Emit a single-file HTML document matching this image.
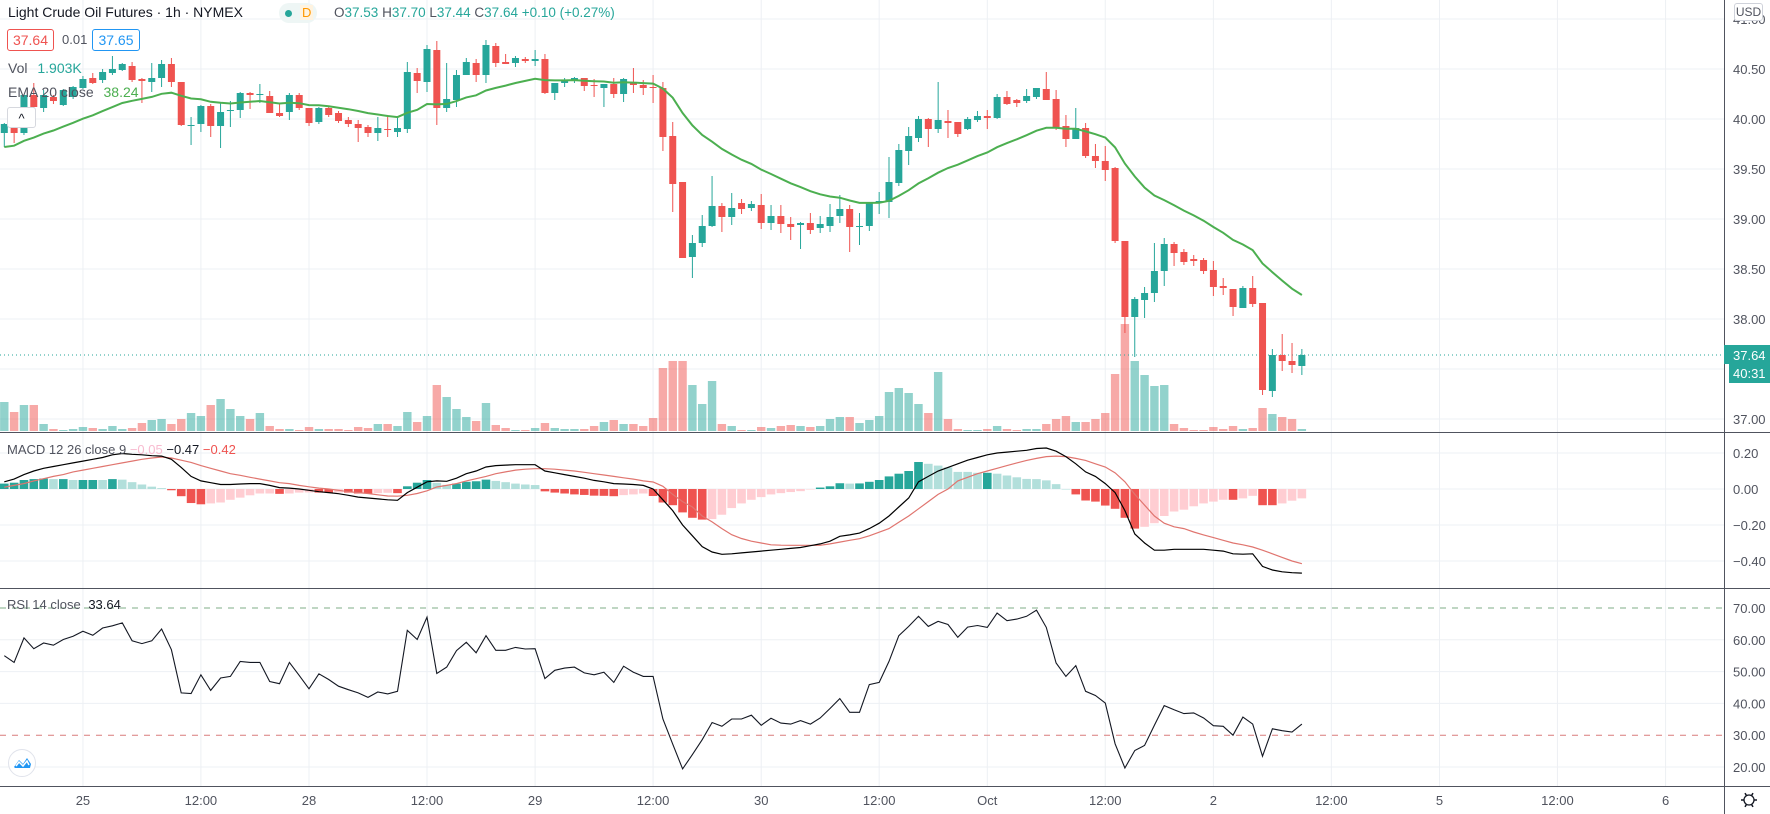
<!DOCTYPE html>
<html><head><meta charset="utf-8">
<style>
html,body{margin:0;padding:0;background:#fff;}
#wrap{position:relative;width:1770px;height:814px;overflow:hidden;font-family:"Liberation Sans",sans-serif;}
svg{position:absolute;left:0;top:0;}
.t{position:absolute;white-space:nowrap;font-size:13px;color:#50535e;}
.box{position:absolute;height:20px;line-height:20px;border-radius:3px;text-align:center;font-size:14px;}
</style></head>
<body>
<div id="wrap">
<svg id="chart" width="1770" height="814" xmlns="http://www.w3.org/2000/svg"></svg>

<div class="t" style="left:8px;top:4px;font-size:14px;color:#131722">Light Crude Oil Futures · 1h · NYMEX</div>
<div style="position:absolute;left:279px;top:3px;width:38px;height:20px;border-radius:10px;background:#eef6f5"></div>
<div style="position:absolute;left:285px;top:10px;width:7px;height:7px;border-radius:50%;background:#26a69a"></div>
<div class="t" style="left:300px;top:5px;font-size:13px;color:#ff9800;background:#fff3e0;padding:0 2px">D</div>
<div class="t" style="left:334px;top:5px;font-size:13.5px;color:#26a69a"><span style="color:#50535e">O</span>37.53 <span style="color:#50535e">H</span>37.70 <span style="color:#50535e">L</span>37.44 <span style="color:#50535e">C</span>37.64 +0.10 (+0.27%)</div>

<div class="box" style="left:7px;top:29px;width:45px;border:1px solid #ef5350;color:#ef5350">37.64</div>
<div class="t" style="left:62px;top:32px;font-size:13px">0.01</div>
<div class="box" style="left:92px;top:29px;width:46px;border:1px solid #2196f3;color:#2196f3">37.65</div>
<div class="t" style="left:8px;top:60px;font-size:14px">Vol <span style="color:#26a69a;margin-left:6px">1.903K</span></div>
<div class="t" style="left:8px;top:84px;font-size:14px">EMA 20 close <span style="color:#4caf50;margin-left:6px">38.24</span></div>
<div style="position:absolute;left:7px;top:107px;width:27px;height:19px;border:1px solid #d6d8de;border-radius:3px;background:#fff;text-align:center;font-size:13px;line-height:22px;color:#131722">^</div>

<div class="t" style="left:7px;top:442px;font-size:13px">MACD 12 26 close 9 <span style="color:#f8bbd0">−0.05</span> <span style="color:#131722">−0.47</span> <span style="color:#ef5350">−0.42</span></div>
<div class="t" style="left:7px;top:597px;font-size:13px">RSI 14 close <span style="color:#131722;margin-left:4px">33.64</span></div>

<div style="position:absolute;left:1734px;top:3px;width:27px;height:16px;border:1px solid #cfd2da;border-radius:3px;background:#fff;font-size:12px;line-height:16px;text-align:center;color:#50535e">USD</div>
<div style="position:absolute;left:8px;top:749px;width:26px;height:26px;border-radius:50%;background:#fff;border:1px solid #e0e3eb">
<svg width="26" height="26" style="position:absolute;left:0;top:0"><path d="M5 17 L10 10 L14 14 L18 8 L22 14 L21 18 L6 18 Z" fill="#2196f3"/><path d="M7 16 L10 12 L14 16 L18 11 L20 15" stroke="#fff" stroke-width="1.5" fill="none"/></svg>
</div>
</div>

<script>
const opens = [39.86,39.95,39.86,40.24,40.11,40.22,40.14,40.22,40.31,40.41,40.39,40.46,40.49,40.53,40.40,40.37,40.41,40.55,40.37,39.93,39.95,40.13,39.93,40.08,40.09,40.26,40.24,40.23,40.06,40.07,40.24,40.11,39.97,40.11,40.06,39.99,39.95,39.92,39.86,39.90,39.87,39.90,40.46,40.37,40.69,40.11,40.19,40.44,40.56,40.44,40.73,40.57,40.56,40.60,40.58,40.60,40.26,40.36,40.38,40.41,40.34,40.31,40.35,40.25,40.37,40.34,40.32,40.31,39.83,39.37,38.62,38.76,38.93,39.13,39.02,39.16,39.11,39.14,38.96,39.03,38.95,38.94,38.96,38.91,38.93,39.03,39.10,38.92,38.93,39.16,39.17,39.36,39.68,39.81,40.00,39.90,39.98,39.97,39.90,39.99,40.03,40.01,40.22,40.19,40.18,40.22,40.30,40.20,39.93,39.80,39.91,39.63,39.58,39.51,38.78,38.02,38.19,38.26,38.48,38.75,38.67,38.60,38.59,38.49,38.33,38.30,38.11,38.31,38.16,37.28,37.64,37.58,37.53];
const highs = [39.96,39.96,40.25,40.36,40.29,40.24,40.30,40.33,40.43,40.46,40.50,40.63,40.56,40.57,40.41,40.56,40.59,40.61,40.37,40.02,40.14,40.15,40.17,40.18,40.27,40.27,40.35,40.28,40.15,40.26,40.26,40.11,40.12,40.13,40.08,40.02,39.99,39.94,40.02,40.04,40.02,40.57,40.51,40.74,40.78,40.56,40.49,40.61,40.60,40.79,40.76,40.65,40.63,40.62,40.69,40.65,40.36,40.41,40.42,40.41,40.40,40.35,40.41,40.41,40.51,40.39,40.44,40.37,39.97,39.37,38.84,39.04,39.43,39.16,39.26,39.20,39.18,39.25,39.14,39.14,39.02,38.97,39.06,39.03,39.15,39.24,39.14,39.06,39.17,39.27,39.62,39.75,39.92,40.03,40.01,40.37,40.09,39.97,40.02,40.08,40.09,40.25,40.28,40.20,40.30,40.31,40.47,40.29,40.04,40.11,39.96,39.75,39.73,39.52,38.78,38.22,38.32,38.76,38.81,38.77,38.70,38.64,38.61,38.58,38.41,38.30,38.33,38.43,38.16,37.70,37.85,37.76,37.70];
const lows = [39.72,39.76,39.84,40.11,40.07,40.15,40.13,40.20,40.30,40.35,40.36,40.44,40.48,40.37,40.16,40.27,40.32,40.32,39.93,39.74,39.87,39.82,39.71,39.92,40.01,40.10,40.16,40.06,40.02,39.99,40.09,39.93,39.95,40.02,39.96,39.92,39.77,39.82,39.78,39.82,39.82,39.86,40.26,40.27,39.94,40.07,40.12,40.44,40.37,40.36,40.52,40.55,40.52,40.56,40.53,40.25,40.19,40.32,40.36,40.28,40.22,40.12,40.21,40.17,40.26,40.24,40.16,39.68,39.07,38.61,38.41,38.72,38.92,38.87,38.94,39.05,39.08,38.90,38.89,38.86,38.79,38.70,38.85,38.86,38.87,38.96,38.67,38.74,38.88,39.05,39.01,39.33,39.54,39.77,39.72,39.86,39.81,39.82,39.89,39.97,39.90,40.00,40.14,40.12,40.16,40.20,40.19,39.89,39.72,39.80,39.61,39.51,39.38,38.76,37.86,37.62,38.01,38.17,38.33,38.53,38.54,38.53,38.45,38.23,38.24,38.03,38.11,38.12,37.24,37.22,37.48,37.46,37.44];
const closes = [39.95,39.86,40.24,40.12,40.24,40.18,40.29,40.32,40.40,40.36,40.47,40.50,40.55,40.39,40.38,40.41,40.55,40.37,39.94,39.94,40.13,39.93,40.07,40.09,40.26,40.24,40.25,40.06,40.03,40.24,40.11,39.96,40.11,40.04,39.98,39.95,39.91,39.86,39.91,39.89,39.91,40.47,40.38,40.70,40.11,40.20,40.44,40.57,40.44,40.74,40.56,40.55,40.61,40.58,40.60,40.26,40.36,40.39,40.41,40.33,40.33,40.35,40.25,40.40,40.34,40.31,40.31,39.82,39.35,38.61,38.76,38.93,39.13,39.02,39.11,39.10,39.15,38.96,39.03,38.95,38.92,38.96,38.89,38.95,39.02,39.10,38.92,38.93,39.16,39.18,39.37,39.69,39.83,40.00,39.90,39.99,39.96,39.85,40.00,40.03,40.01,40.22,40.15,40.16,40.23,40.31,40.19,39.91,39.80,39.91,39.63,39.58,39.49,38.78,38.02,38.20,38.26,38.48,38.75,38.66,38.57,38.58,38.48,38.32,38.31,38.12,38.31,38.15,37.29,37.64,37.58,37.54,37.64];
const volumes = [29,19,26,26,7,2,1,2,4,3,2,5,2,3,8,11,12,7,12,18,15,26,32,22,15,12,18,5,2,2,1,4,2,2,2,1,4,3,7,7,5,19,9,15,46,34,22,14,10,28,6,3,1,1,3,8,3,2,2,2,5,9,11,7,7,5,13,63,70,70,46,27,50,7,5,1,1,4,3,5,6,5,4,5,12,14,14,8,11,15,39,43,38,27,18,59,12,2,1,1,2,5,2,1,2,2,7,12,15,9,9,12,18,57,107,70,56,45,46,7,3,1,1,4,2,5,2,3,23,17,14,12,2];
const macdLine = [0.04,0.055,0.08,0.10,0.115,0.125,0.135,0.145,0.155,0.165,0.175,0.19,0.197,0.193,0.19,0.185,0.183,0.165,0.12,0.07,0.045,0.035,0.025,0.025,0.028,0.03,0.03,0.02,0.008,0.005,0.0,-0.007,-0.015,-0.02,-0.026,-0.035,-0.045,-0.05,-0.055,-0.06,-0.063,-0.02,0.01,0.04,0.045,0.043,0.06,0.085,0.10,0.122,0.13,0.133,0.135,0.135,0.135,0.10,0.09,0.08,0.07,0.06,0.048,0.04,0.03,0.028,0.025,0.02,0.0,-0.06,-0.12,-0.20,-0.26,-0.32,-0.35,-0.363,-0.36,-0.355,-0.35,-0.345,-0.34,-0.335,-0.33,-0.325,-0.315,-0.305,-0.29,-0.263,-0.255,-0.245,-0.22,-0.19,-0.15,-0.10,-0.05,0.04,0.07,0.10,0.12,0.14,0.16,0.175,0.19,0.20,0.205,0.21,0.215,0.225,0.228,0.21,0.18,0.14,0.095,0.07,0.03,-0.02,-0.12,-0.25,-0.30,-0.34,-0.34,-0.335,-0.335,-0.335,-0.335,-0.34,-0.345,-0.36,-0.362,-0.36,-0.43,-0.45,-0.46,-0.465,-0.467];
const signalLine = [0.01,0.02,0.03,0.045,0.057,0.07,0.08,0.095,0.105,0.115,0.125,0.135,0.145,0.155,0.165,0.172,0.178,0.172,0.16,0.148,0.13,0.115,0.10,0.085,0.076,0.065,0.055,0.045,0.035,0.03,0.02,0.012,0.005,0.0,-0.007,-0.015,-0.02,-0.025,-0.032,-0.039,-0.04,-0.035,-0.025,-0.01,0.011,0.02,0.03,0.045,0.057,0.07,0.085,0.095,0.105,0.11,0.113,0.113,0.11,0.105,0.10,0.093,0.085,0.078,0.07,0.062,0.055,0.045,0.039,0.015,-0.03,-0.07,-0.10,-0.15,-0.183,-0.22,-0.254,-0.275,-0.29,-0.30,-0.31,-0.312,-0.313,-0.313,-0.313,-0.313,-0.305,-0.295,-0.285,-0.276,-0.26,-0.24,-0.22,-0.185,-0.15,-0.11,-0.07,-0.03,0.0,0.045,0.065,0.085,0.10,0.115,0.13,0.145,0.159,0.17,0.18,0.183,0.18,0.17,0.159,0.14,0.122,0.09,0.04,-0.03,-0.09,-0.15,-0.19,-0.21,-0.22,-0.239,-0.255,-0.27,-0.285,-0.30,-0.31,-0.322,-0.34,-0.36,-0.38,-0.40,-0.415];
const rsiValues = [55.0,52.9,60.6,57.2,59.0,58.3,60.1,61.1,62.7,61.4,63.7,64.4,65.3,59.7,58.8,59.7,63.4,56.9,43.3,43.1,49.0,44.1,48.0,48.5,53.2,52.9,52.9,46.9,46.2,52.9,48.8,44.6,49.3,47.5,45.4,44.3,43.3,41.9,43.6,43.0,43.8,63.0,60.1,67.1,49.4,51.4,56.6,59.2,55.9,61.3,56.7,56.7,57.6,57.1,57.2,47.8,50.4,51.1,51.4,49.6,49.0,49.8,46.6,51.7,49.8,48.5,48.5,35.1,27.2,19.4,23.9,28.6,34.0,32.8,35.1,35.1,36.3,33.1,35.3,33.8,33.5,34.6,33.5,35.4,38.4,41.5,37.2,37.2,45.9,46.6,53.2,61.3,64.2,67.4,64.2,65.8,64.8,60.8,64.0,64.5,63.9,68.4,66.0,66.5,67.4,69.3,63.9,52.7,48.5,51.9,43.8,42.5,40.1,27.3,19.7,25.2,26.8,33.1,39.3,38.0,36.8,37.0,35.4,33.0,32.8,30.0,35.7,33.5,23.4,32.0,31.4,31.0,33.5];
const timeIdx = [8,20,31,43,54,66,77,89,100,112,123,135,146,158,169];
const timeLabels = ['25','12:00','28','12:00','29','12:00','30','12:00','Oct','12:00','2','12:00','5','12:00','6'];
const priceTicks = [41.0,40.5,40.0,39.5,39.0,38.5,38.0,37.5,37.0];
const macdTicks = [0.2,0.0,-0.2,-0.4];
const rsiTicks = [70,60,50,40,30,20];
const emaSeed = 39.72;
const lastPrice = 37.64;

const NS='http://www.w3.org/2000/svg';
const svg=document.getElementById('chart');
const AXIS_X=1724, MAIN_B=432, MACD_B=588, RSI_B=786;
const xOf=i=>4.3+i*9.83;
const priceY=p=>119+(40-p)*100;
const macdY=v=>489-v*180;
const rsiY=v=>608+(70-v)*3.18;
const volY=v=>431-v*1.0;
function mk(tag,attrs,parent){const e=document.createElementNS(NS,tag);for(const k in attrs)e.setAttribute(k,attrs[k]);(parent||svg).appendChild(e);return e;}
const fmt=v=>(v<0?'\u2212':'')+Math.abs(v).toFixed(2);

// clip paths
const defs=mk('defs',{});
[['cMain',0,MAIN_B],['cMacd',MAIN_B,MACD_B],['cRsi',MACD_B,RSI_B]].forEach(c=>{const cp=mk('clipPath',{id:c[0]},defs);mk('rect',{x:0,y:c[1],width:AXIS_X,height:c[2]-c[1]},cp);});

// grids
const grid=mk('g',{});


timeIdx.forEach(i=>{const l=mk('line',{x1:xOf(i),x2:xOf(i),y1:0,y2:RSI_B,stroke:'#edf0f4','stroke-width':1},grid);

});
priceTicks.forEach(p=>{const l=mk('line',{x1:0,x2:AXIS_X,y1:priceY(p),y2:priceY(p),stroke:'#edf0f4'},grid);

});
macdTicks.forEach(v=>{const l=mk('line',{x1:0,x2:AXIS_X,y1:macdY(v),y2:macdY(v),stroke:'#edf0f4'},grid);

});
[60,50,40,20].forEach(v=>{const l=mk('line',{x1:0,x2:AXIS_X,y1:rsiY(v),y2:rsiY(v),stroke:'#edf0f4'},grid);

});

// volume
const gVol=mk('g',{'clip-path':'url(#cMain)'});


volumes.forEach((v,i)=>{const up=closes[i]>=opens[i];const y=volY(v);
const r=mk('rect',{x:xOf(i)-4.2,y:y,width:8.4,height:Math.max(0.5,431-y),fill:up?'rgba(38,166,154,0.5)':'rgba(239,83,80,0.5)'},gVol);

});

// last price line
const lp=mk('line',{x1:0,x2:AXIS_X,y1:priceY(lastPrice),y2:priceY(lastPrice),stroke:'#26a69a','stroke-width':1,'stroke-dasharray':'1 3'});



// candles
const gC=mk('g',{'clip-path':'url(#cMain)'});


closes.forEach((c,i)=>{const o=opens[i],up=c>=o,col=up?'#26a69a':'#ef5350',x=xOf(i);
const w=mk('line',{x1:x,x2:x,y1:priceY(highs[i]),y2:priceY(lows[i]),stroke:col,'stroke-width':1},gC);


const top=priceY(Math.max(o,c)),bot=priceY(Math.min(o,c));
const b=mk('rect',{x:x-3.5,y:top,width:7,height:Math.max(1,bot-top),fill:col},gC);

});

// EMA 20
let ema=emaSeed;const emaPts=[];const a=2/21;
closes.forEach((c,i)=>{if(i>0)ema=c*a+ema*(1-a);emaPts.push(xOf(i).toFixed(1)+','+priceY(ema).toFixed(1));});
const emaL=mk('polyline',{points:emaPts.join(' '),fill:'none',stroke:'#4caf50','stroke-width':2,'clip-path':'url(#cMain)'});



// MACD histogram
const gH=mk('g',{'clip-path':'url(#cMacd)'});


let prevH=0;
macdLine.forEach((m,i)=>{const h=m-signalLine[i];let col;
if(h>=0)col=h>=prevH?'#26a69a':'#b2dfdb';else col=h<=prevH?'#ef5350':'#ffcdd2';prevH=h;
const y0=macdY(0),y1=macdY(h);
const r=mk('rect',{x:xOf(i)-4.3,y:Math.min(y0,y1),width:8.6,height:Math.max(0.5,Math.abs(y1-y0)),fill:col},gH);

});
const sigL=mk('polyline',{points:signalLine.map((v,i)=>xOf(i).toFixed(1)+','+macdY(v).toFixed(1)).join(' '),fill:'none',stroke:'#e0756f','stroke-width':1.2,'clip-path':'url(#cMacd)'});


const macL=mk('polyline',{points:macdLine.map((v,i)=>xOf(i).toFixed(1)+','+macdY(v).toFixed(1)).join(' '),fill:'none',stroke:'#000','stroke-width':1.2,'clip-path':'url(#cMacd)'});



// RSI
const ob=mk('line',{x1:0,x2:AXIS_X,y1:rsiY(70),y2:rsiY(70),stroke:'#7fae87','stroke-dasharray':'6 6'});


const os=mk('line',{x1:0,x2:AXIS_X,y1:rsiY(30),y2:rsiY(30),stroke:'#d97b7b','stroke-dasharray':'6 6'});


const rsiL=mk('polyline',{points:rsiValues.map((v,i)=>xOf(i).toFixed(1)+','+rsiY(v).toFixed(1)).join(' '),fill:'none',stroke:'#131722','stroke-width':1.1,'clip-path':'url(#cRsi)'});



// separators and axes
[MAIN_B,MACD_B,RSI_B].forEach(y=>{const l=mk('line',{x1:0,x2:1770,y1:y+0.5,y2:y+0.5,stroke:'#50535e','stroke-width':1});

});
const ax=mk('line',{x1:AXIS_X+0.5,x2:AXIS_X+0.5,y1:0,y2:814,stroke:'#50535e','stroke-width':1});



function label(x,y,txt,name,opts){const t=mk('text',Object.assign({x:x,y:y,'font-family':'Liberation Sans, sans-serif','font-size':13,fill:'#50535e'},opts||{}));t.textContent=txt;

return t;}
priceTicks.forEach(p=>label(1733,priceY(p)+5,p.toFixed(2),'price-tick-label'));
macdTicks.forEach(v=>label(1733,macdY(v)+5,fmt(v),'macd-tick-label'));
rsiTicks.forEach(v=>label(1733,rsiY(v)+5,v.toFixed(2),'rsi-tick-label'));
timeIdx.forEach((i,k)=>label(xOf(i),805,timeLabels[k],'time-tick-label',{'text-anchor':'middle'}));

// last price tags
const tag=mk('rect',{x:AXIS_X,y:priceY(lastPrice)-10,width:46,height:19,fill:'#26a69a'});


label(1733,priceY(lastPrice)+5,lastPrice.toFixed(2),'last-price-label',{fill:'#fff'});
const tag2=mk('rect',{x:AXIS_X+5,y:priceY(lastPrice)+9,width:41,height:19,fill:'#26a69a'});


label(1733,priceY(lastPrice)+23,'40:31','bar-countdown-label',{fill:'#fff'});

// gear
const gear=mk('g',{});


mk('circle',{cx:1749,cy:800,r:5,fill:'none',stroke:'#131722','stroke-width':1.3},gear);
[0,60,120,180,240,300].forEach(d=>{const r=d*Math.PI/180;mk('line',{x1:1749+5*Math.cos(r),y1:800+5*Math.sin(r),x2:1749+8*Math.cos(r),y2:800+8*Math.sin(r),stroke:'#131722','stroke-width':1.5},gear);});
</script>
</body></html>
